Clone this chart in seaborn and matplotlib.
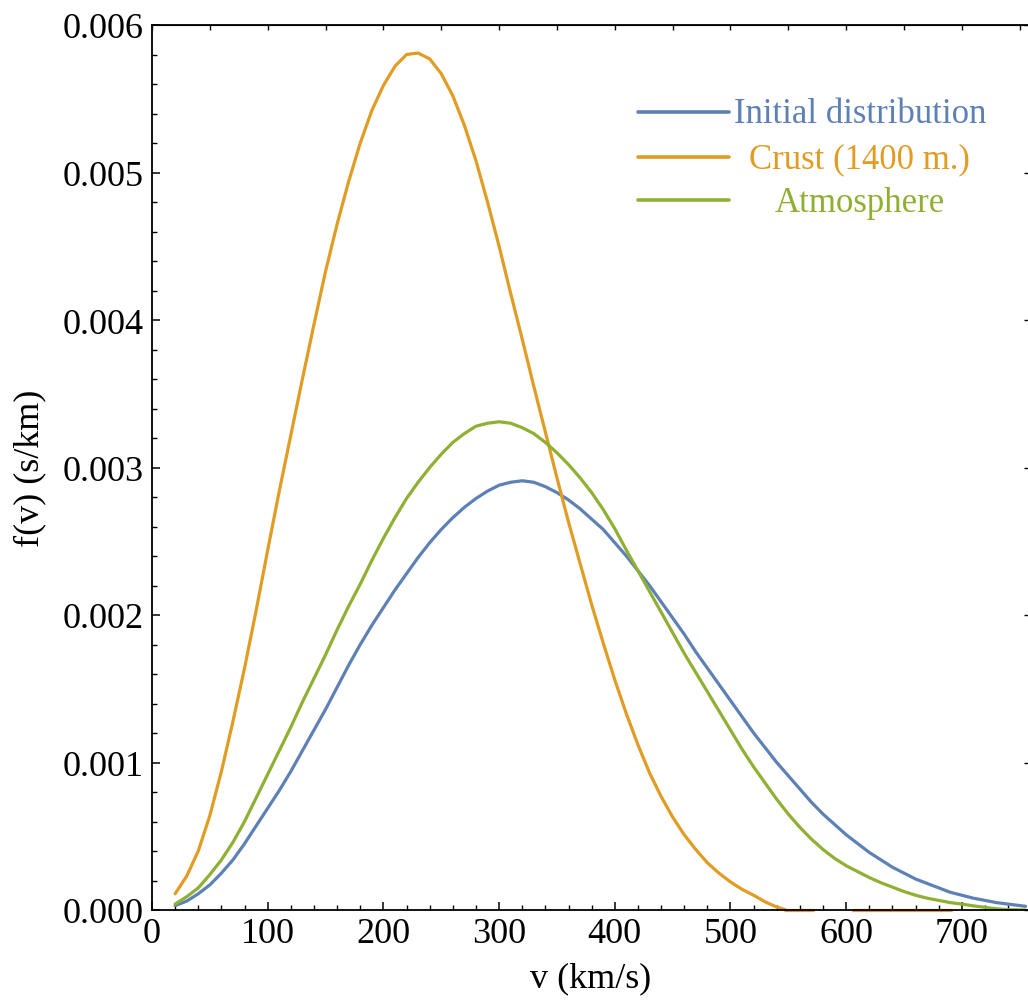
import numpy as np
import pandas as pd
import seaborn as sns
import matplotlib.pyplot as plt
from matplotlib.ticker import MultipleLocator, FormatStrFormatter

# -----------------------------------------------------------------------
# Values (v in km/s, f(v) in units of 1e-3 s/km)
# -----------------------------------------------------------------------
V = [20, 30, 40, 50, 60, 70, 80, 90, 100, 110, 120, 130, 140, 150, 160, 170,
     180, 190, 200, 210, 220, 230, 240, 250, 260, 270, 280, 290, 300, 310,
     320, 330, 340, 350, 360, 370, 380, 390, 400, 410, 420, 430, 440, 450,
     460, 470, 480, 490, 500, 510, 520, 530, 540, 550, 560, 570, 580, 590,
     600, 610, 620, 630, 640, 650, 660, 670, 680, 690, 700, 710, 720, 730,
     740, 755]

INITIAL = [0.03, 0.06, 0.11, 0.17, 0.25, 0.34, 0.45, 0.57, 0.69, 0.81, 0.94,
           1.08, 1.22, 1.36, 1.51, 1.66, 1.80, 1.93, 2.05, 2.17, 2.28, 2.39,
           2.49, 2.58, 2.66, 2.73, 2.79, 2.84, 2.88, 2.90, 2.91, 2.90, 2.87,
           2.83, 2.78, 2.72, 2.65, 2.58, 2.49, 2.40, 2.30, 2.20, 2.09, 1.98,
           1.87, 1.75, 1.64, 1.53, 1.42, 1.31, 1.20, 1.10, 1.00, 0.91, 0.82,
           0.73, 0.65, 0.58, 0.51, 0.45, 0.39, 0.34, 0.29, 0.25, 0.21, 0.18,
           0.15, 0.12, 0.10, 0.08, 0.065, 0.05, 0.04, 0.025]

ATMOSPHERE = [0.04, 0.09, 0.15, 0.24, 0.34, 0.46, 0.60, 0.76, 0.92, 1.08,
              1.24, 1.41, 1.57, 1.73, 1.90, 2.06, 2.21, 2.37, 2.52, 2.66,
              2.79, 2.90, 3.00, 3.09, 3.17, 3.23, 3.28, 3.30, 3.31, 3.30,
              3.27, 3.23, 3.17, 3.10, 3.02, 2.93, 2.83, 2.715, 2.585, 2.44,
              2.30, 2.16, 2.02, 1.88, 1.74, 1.61, 1.48, 1.35, 1.22, 1.09,
              0.97, 0.86, 0.75, 0.65, 0.56, 0.48, 0.41, 0.35, 0.30, 0.26,
              0.22, 0.185, 0.155, 0.125, 0.10, 0.08, 0.065, 0.05, 0.04,
              0.028, 0.018, 0.008, 0.002, 0.0]

V_CRUST = [20, 30, 40, 50, 60, 70, 80, 90, 100, 110, 120, 130, 140, 150, 160,
           170, 180, 190, 200, 210, 220, 230, 240, 250, 260, 270, 280, 290,
           300, 310, 320, 330, 340, 350, 360, 370, 380, 390, 400, 410, 420,
           430, 440, 450, 460, 470, 480, 490, 500, 510, 520, 530, 540, 547]

CRUST = [0.11, 0.23, 0.40, 0.64, 0.94, 1.28, 1.64, 2.03, 2.44, 2.84, 3.22,
         3.60, 3.97, 4.33, 4.65, 4.94, 5.20, 5.42, 5.59, 5.72, 5.80, 5.81,
         5.77, 5.67, 5.52, 5.32, 5.08, 4.80, 4.50, 4.18, 3.87, 3.55, 3.24,
         2.93, 2.63, 2.35, 2.07, 1.81, 1.56, 1.33, 1.12, 0.93, 0.77, 0.63,
         0.51, 0.41, 0.32, 0.25, 0.19, 0.14, 0.10, 0.055, 0.02, 0.003]

# stretches where the crust curve sits on the axis
CRUST_FLAT = [(547, 571), (606, 691)]

LABELS = ["Initial distribution", "Crust (1400 m.)", "Atmosphere"]
COLORS = ["#5E81B5", "#E19C24", "#8FB032"]
SCALE = 1e-3


def main():
    sns.set_style("white")
    plt.rcParams["font.family"] = ["Liberation Serif", "DejaVu Serif"]
    plt.rcParams["font.size"] = 26
    for key in ["text.color", "axes.labelcolor", "xtick.color", "ytick.color",
                "axes.edgecolor"]:
        plt.rcParams[key] = "black"

    fig = plt.figure(figsize=(10.28, 10.03), dpi=100)
    ax = fig.add_axes([152 / 1028, 92 / 1003, 877 / 1028, 885 / 1003])

    df = pd.concat([
        pd.DataFrame({"v": V, "f": np.array(INITIAL) * SCALE, "series": LABELS[0]}),
        pd.DataFrame({"v": V_CRUST, "f": np.array(CRUST) * SCALE, "series": LABELS[1]}),
        pd.DataFrame({"v": V, "f": np.array(ATMOSPHERE) * SCALE, "series": LABELS[2]}),
    ])
    palette = dict(zip(LABELS, COLORS))
    sns.lineplot(data=df, x="v", y="f", hue="series", palette=palette,
                 estimator=None, sort=False, linewidth=2.3, legend=False, ax=ax)
    for a, b in CRUST_FLAT:
        sns.lineplot(x=[a, b], y=[0.0, 0.0], color=COLORS[1], linewidth=2.3,
                     estimator=None, ax=ax, clip_on=False)

    ax.set_xlim(0, 758)
    ax.set_ylim(0, 0.006)
    ax.xaxis.set_major_locator(MultipleLocator(100))
    ax.xaxis.set_minor_locator(MultipleLocator(20))
    ax.yaxis.set_major_locator(MultipleLocator(0.001))
    ax.yaxis.set_minor_locator(MultipleLocator(0.0002))
    ax.yaxis.set_major_formatter(FormatStrFormatter("%.3f"))
    ax.tick_params(which="major", direction="in", length=6, width=1.1,
                   labelsize=26, pad=5, bottom=True, left=True,
                   top=False, right=False)
    ax.tick_params(which="minor", direction="in", length=3.8, width=1.0,
                   bottom=True, left=True, top=False, right=False)
    ax.tick_params(axis="y", pad=6)

    # frame ticks on top and right, unlabeled
    top = ax.secondary_xaxis("top")
    top.set_xticks(np.arange(0, 751, 50))
    top.tick_params(direction="in", length=3.5, width=1.0, labeltop=False)
    right = ax.secondary_yaxis("right")
    right.set_yticks(np.arange(0, 0.0061, 0.001))
    right.tick_params(direction="in", length=3.5, width=1.0, labelright=False)

    for s in ax.spines.values():
        s.set_linewidth(1.3)

    ax.set_xlabel("v (km/s)", fontsize=26, labelpad=8)
    ax.set_ylabel("f(v) (s/km)", fontsize=26, labelpad=12)

    # legend: short line on the left, label centred to its right
    rows = [0.890, 0.839, 0.790]
    for label, color, y in zip(LABELS, COLORS, rows):
        ax.plot([0.554, 0.658], [y + 0.012, y + 0.012], transform=ax.transAxes,
                color=color, linewidth=2.6)
        ax.text(0.807, y, label, transform=ax.transAxes, ha="center",
                va="baseline", color=color, fontsize=25)

    fig.savefig("out.png", dpi=100)
    plt.close(fig)


if __name__ == "__main__":
    main()
